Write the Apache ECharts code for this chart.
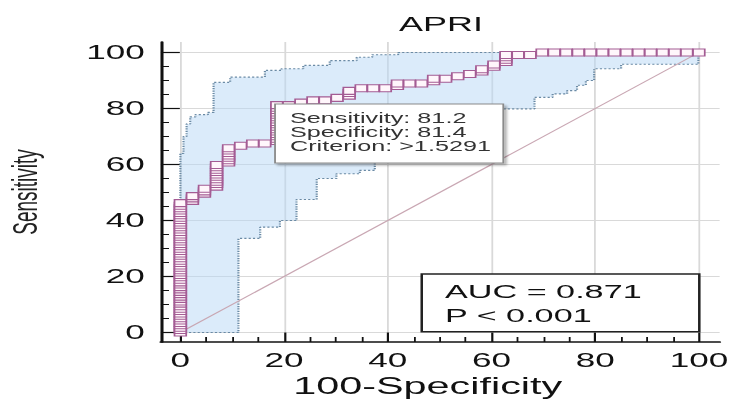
<!DOCTYPE html>
<html>
<head>
<meta charset="utf-8">
<title>APRI ROC</title>
<script src="https://cdn.jsdelivr.net/npm/echarts@6/dist/echarts.min.js"></script>
<style>
  html, body { margin: 0; padding: 0; background: #fff; overflow: hidden; }
  /* the reference picture is stretched sideways, so the chart is drawn narrow and scaled */
  #chart-container { width: 406px; height: 400px; transform: scaleX(1.8); transform-origin: 0 0; }
</style>
</head>
<body>
<div id="chart-container"></div>
<script>
// ROC points, grouped by 100-Specificity: [x, [sensitivity values at that x]]
var rocSteps = [
  [0, [0, 0.9, 1.7, 2.6, 3.4, 4.3, 5.1, 6.0, 6.8, 7.7, 8.5, 9.4, 10.3, 11.1, 12.0, 12.8, 13.7, 14.5,
       15.4, 16.2, 17.1, 17.9, 18.8, 19.7, 20.5, 21.4, 22.2, 23.1, 23.9, 24.8, 25.6, 26.5, 27.4, 28.2,
       29.1, 29.9, 30.8, 31.6, 32.5, 33.3, 34.2, 35.0, 35.9, 36.8, 37.6, 38.5, 39.3, 40.2, 41.0, 41.9,
       42.7, 43.6, 44.4, 45.3, 46.2]],
  [2.33, [47.0, 47.9, 48.7]],
  [4.65, [49.6, 50.4, 51.3]],
  [6.98, [52.1, 53.0, 53.8, 54.7, 55.6, 56.4, 57.3, 58.1, 59.0, 59.8]],
  [9.30, [60.7, 61.5, 62.4, 63.2, 64.1, 65.0, 65.8]],
  [11.63, [66.7]],
  [13.95, [67.5]],
  [16.28, [67.5]],
  [18.60, [68.4, 69.2, 70.1, 70.9, 71.8, 72.6, 73.5, 74.4, 75.2, 76.1, 76.9, 77.8, 78.6, 79.5, 80.3, 81.2]],
  [20.93, [81.2]],
  [23.26, [82.1]],
  [25.58, [82.9]],
  [27.91, [82.9]],
  [30.23, [83.8]],
  [32.56, [84.6, 85.5, 86.3]],
  [34.88, [87.2]],
  [37.21, [87.2]],
  [39.53, [87.2]],
  [41.86, [88.0, 88.9]],
  [44.19, [88.9]],
  [46.51, [88.9]],
  [48.84, [89.7, 90.6]],
  [51.16, [90.6]],
  [53.49, [91.5]],
  [55.81, [92.3]],
  [58.14, [93.2, 94.0]],
  [60.47, [94.9, 95.7]],
  [62.79, [96.6, 97.4, 98.3, 99.1]],
  [65.12, [99.1]],
  [67.44, [99.1]],
  [69.77, [100]],
  [72.09, [100]],
  [74.42, [100]],
  [76.74, [100]],
  [79.07, [100]],
  [81.40, [100]],
  [83.72, [100]],
  [86.05, [100]],
  [88.37, [100]],
  [90.70, [100]],
  [93.02, [100]],
  [95.35, [100]],
  [97.67, [100]],
  [100, [100]]
];

// 95% confidence bounds, as [x where a level starts, level]
var upperBand = [[0, 0], [0, 64], [0.6, 70], [1.2, 74.5], [1.9, 77], [2.9, 77.8], [5.3, 78.6],
  [6.4, 89.3], [9.6, 91.2], [16.3, 93.6], [19.5, 94.2], [23.7, 95.4], [28.8, 97.1], [34, 98.3],
  [37, 99.2], [42, 100], [100, 100]];
var lowerBand = [[0, 0], [11.2, 33.6], [15.4, 37.6], [19.2, 40], [22.4, 47.5], [26.3, 55],
  [30.1, 56.7], [34.6, 57.9], [37.5, 68], [44, 72], [52, 76], [58, 79.9], [68.3, 84], [71.8, 85.2],
  [74.6, 86.4], [76.5, 88.3], [78.2, 90], [79.8, 94.2], [85, 95.8], [99.9, 100], [100, 100]];

var refLine = [[0, 0], [100, 100]];

var majorTicks = [0, 20, 40, 60, 80, 100];
var minorTicks = [5, 10, 15, 25, 30, 35, 45, 50, 55, 65, 70, 75, 85, 90, 95];

var criterionText = ['Sensitivity: 81.2', 'Specificity: 81.4', 'Criterion: >1.5291'];
var aucText = ['AUC = 0.871', 'P < 0.001'];

var font = 'Liberation Sans, Arial, sans-serif';

function stepCorners(levels) {
  var pts = [];
  for (var i = 0; i < levels.length; i++) {
    if (i > 0) pts.push([levels[i][0], levels[i - 1][1]]);
    pts.push(levels[i]);
  }
  return pts;
}
var upperPts = stepCorners(upperBand);
var lowerPts = stepCorners(lowerBand);

var rocData = [];
rocSteps.forEach(function (s) {
  s[1].forEach(function (y) { rocData.push([s[0], y]); });
});

function mainAxis(min, max, name, horizontal) {
  return {
    type: 'value',
    position: horizontal ? 'bottom' : 'left',
    min: min,
    max: max,
    name: name,
    nameLocation: 'middle',
    nameGap: horizontal ? 31 : 66,
    nameTextStyle: horizontal
      ? { fontFamily: font, fontSize: 23, color: '#111', padding: [0, 14, 0, 0] }
      : { fontFamily: font, fontSize: 19, color: '#222' },
    axisLine: { show: true, onZero: false, lineStyle: { color: '#111', width: 1.7 } },
    axisTick: {
      show: true, inside: true, length: horizontal ? 9.5 : 10.5,
      customValues: majorTicks, lineStyle: { color: '#111', width: 1.2 }
    },
    axisLabel: {
      customValues: majorTicks, margin: horizontal ? 8 : 9,
      fontFamily: font, fontSize: 19.5, color: '#111'
    },
    splitLine: { show: true, lineStyle: { color: '#d9d9d9', width: 1 } }
  };
}

function minorAxis(min, max, horizontal) {
  return {
    type: 'value',
    position: horizontal ? 'bottom' : 'left',
    min: min,
    max: max,
    axisLine: { show: false, onZero: false },
    axisTick: {
      show: true, inside: true, length: horizontal ? 5 : 4.5,
      customValues: minorTicks, lineStyle: { color: '#111', width: 1 }
    },
    axisLabel: { show: false },
    splitLine: { show: false }
  };
}

var dom = document.getElementById('chart-container');
var myChart = echarts.init(dom, null, { renderer: 'svg' });

var option = {
  animation: false,
  grid: { left: 89.4, top: 42, width: 310.4, height: 300, outerBoundsMode: 'none' },
  xAxis: [mainAxis(-3.75, 104, '100-Specificity', true), minorAxis(-3.75, 104, true)],
  yAxis: [mainAxis(-3.4, 103.75, 'Sensitivity', false), minorAxis(-3.4, 103.75, false)],
  series: [
    {
      // shaded confidence region between the two bounds
      type: 'custom',
      coordinateSystem: 'cartesian2d',
      silent: true,
      z: 1,
      data: [[0, 0]],
      renderItem: function (params, api) {
        var pts = upperPts.concat(lowerPts.slice().reverse()).map(function (p) {
          return api.coord(p);
        });
        return { type: 'polygon', shape: { points: pts }, style: { fill: 'rgba(184,215,245,0.5)' } };
      }
    },
    {
      type: 'line', data: upperPts, showSymbol: false, silent: true, z: 2,
      lineStyle: { color: '#6a8aa5', width: 1.2, type: 'dotted' }
    },
    {
      type: 'line', data: lowerPts, showSymbol: false, silent: true, z: 2,
      lineStyle: { color: '#6a8aa5', width: 1.2, type: 'dotted' }
    },
    {
      type: 'line', data: refLine, showSymbol: false, silent: true, z: 2,
      lineStyle: { color: '#c9a7b3', width: 1 }
    },
    {
      type: 'line',
      data: rocData,
      symbol: 'rect',
      symbolSize: [6.5, 7],
      showSymbol: true,
      clip: false,
      z: 3,
      lineStyle: { color: '#9a5a8e', width: 1 },
      itemStyle: { color: '#fff6fb', borderColor: '#a45c94', borderWidth: 1 }
    }
  ],
  graphic: [
    {
      type: 'text', x: 245, y: 24.5, z: 100,
      style: { text: 'APRI', fontFamily: font, fontSize: 20, fill: '#111', align: 'center', verticalAlign: 'middle' }
    },
    {
      type: 'rect', x: 152.8, y: 104, z: 100,
      shape: { width: 126.8, height: 59 },
      style: {
        fill: '#fff', stroke: '#8a8a8a', lineWidth: 1,
        shadowColor: 'rgba(0,0,0,0.3)', shadowOffsetX: 1.5, shadowOffsetY: 2, shadowBlur: 2
      }
    },
    {
      type: 'text', x: 161.1, y: 110.8, z: 101,
      style: {
        text: criterionText.join('\n'), fontFamily: font, fontSize: 14, lineHeight: 14.3,
        fill: '#333', verticalAlign: 'top'
      }
    },
    {
      type: 'rect', x: 234.3, y: 274, z: 100,
      shape: { width: 154.2, height: 57.7 },
      style: { fill: '#fff', stroke: '#222', lineWidth: 1.4 }
    },
    {
      type: 'text', x: 247.2, y: 279.9, z: 101,
      style: {
        text: aucText.join('\n'), fontFamily: font, fontSize: 19, lineHeight: 23.4,
        fill: '#111', verticalAlign: 'top'
      }
    }
  ]
};

if (option && typeof option === 'object') {
  myChart.setOption(option);
}

window.addEventListener('resize', myChart.resize);
</script>
</body>
</html>
